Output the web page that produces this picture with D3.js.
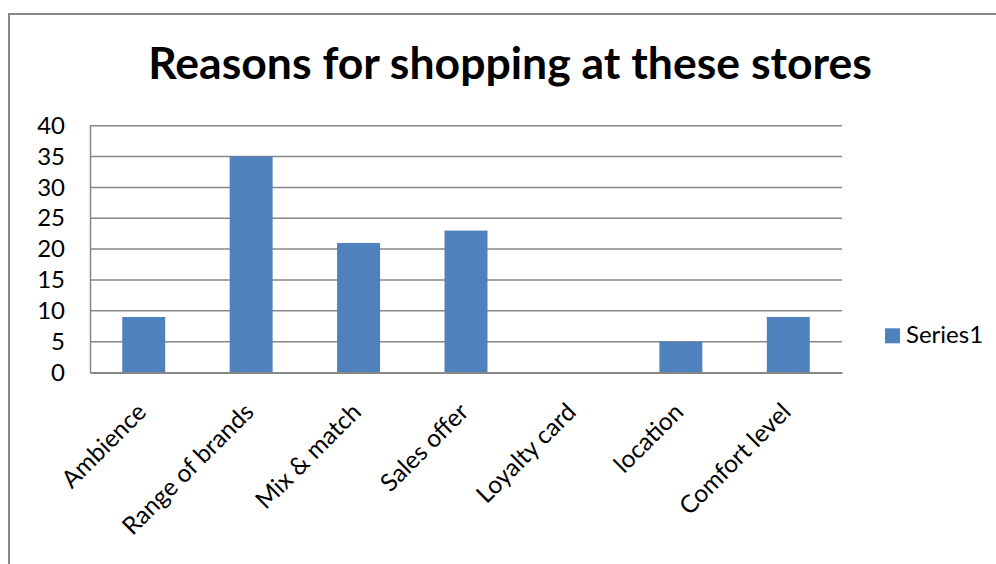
<!DOCTYPE html>
<html>
<head>
<meta charset="utf-8">
<script src="https://cdn.jsdelivr.net/npm/d3@7"></script>
<style>
  html, body { margin: 0; padding: 0; background: #fff; }
  svg { display: block; }
  text { font-family: Lato, "Liberation Sans", sans-serif; }
</style>
</head>
<body>
<svg id="chart" width="996" height="564"></svg>
<script>
const title = "Reasons for shopping at these stores";
const categories = ["Ambience", "Range of brands", "Mix & match", "Sales offer", "Loyalty card", "location", "Comfort level"];
const series1 = [9, 35, 21, 23, 0, 5, 9];
const seriesName = "Series1";
const yTicks = [0, 5, 10, 15, 20, 25, 30, 35, 40];

const svg = d3.select("#chart");
const plot = { left: 90, right: 842, top: 125.7, bottom: 372.5 };

// chart frame
svg.append("rect")
  .attr("x", 9).attr("y", 14)
  .attr("width", 1100).attr("height", 700)
  .attr("fill", "#fff").attr("stroke", "#878787").attr("stroke-width", 2);

// title
const t = svg.append("text")
  .attr("x", 510).attr("y", 78.5)
  .attr("text-anchor", "middle")
  .attr("font-weight", "bold")
  .attr("font-size", 42)
  .attr("fill", "#000")
  .text(title);
const tw = t.node().getComputedTextLength();
t.attr("font-size", 42 * 724 / tw);

const x = d3.scaleBand().domain(categories).range([plot.left, plot.right]).paddingInner(0.6).paddingOuter(0.3);
const y = d3.scaleLinear().domain([0, 40]).range([plot.bottom, plot.top]);

// gridlines
svg.append("g").selectAll("line").data(yTicks.filter(d => d > 0)).join("line")
  .attr("x1", plot.left).attr("x2", plot.right)
  .attr("y1", d => y(d)).attr("y2", d => y(d))
  .attr("stroke", "#878787").attr("stroke-width", 1.5);

// y axis
const yAxis = svg.append("g").attr("transform", `translate(${plot.left},0)`)
  .call(d3.axisLeft(y).tickValues(yTicks).tickSize(0).tickPadding(25));
yAxis.select(".domain").attr("stroke", "#878787").attr("stroke-width", 1.5);
yAxis.selectAll("text").attr("font-size", 24).attr("fill", "#000")
  .attr("font-family", "Lato, 'Liberation Sans', sans-serif");

// bars
svg.append("g").selectAll("rect").data(series1).join("rect")
  .attr("x", (d, i) => x(categories[i]))
  .attr("width", x.bandwidth())
  .attr("y", d => y(d))
  .attr("height", d => y(0) - y(d))
  .attr("fill", "#4F81BD");

// x axis
const xAxis = svg.append("g").attr("transform", `translate(0,${plot.bottom})`)
  .call(d3.axisBottom(x).tickSize(0).tickFormat(""));
xAxis.select(".domain").attr("stroke", "#878787").attr("stroke-width", 2);

svg.append("g").selectAll("text").data(categories).join("text")
  .attr("transform", d => `translate(${x(d) + x.bandwidth() / 2 + 4},${plot.bottom + 41}) rotate(-45)`)
  .attr("text-anchor", "end")
  .attr("font-size", 24.5)
  .attr("fill", "#000")
  .text(d => d);

// legend
const lg = svg.append("g");
lg.append("rect").attr("x", 885).attr("y", 328.3).attr("width", 15).attr("height", 15).attr("fill", "#4F81BD");
lg.append("text").attr("x", 906).attr("y", 343).attr("font-size", 24).attr("fill", "#000").text(seriesName);
</script>
</body>
</html>
